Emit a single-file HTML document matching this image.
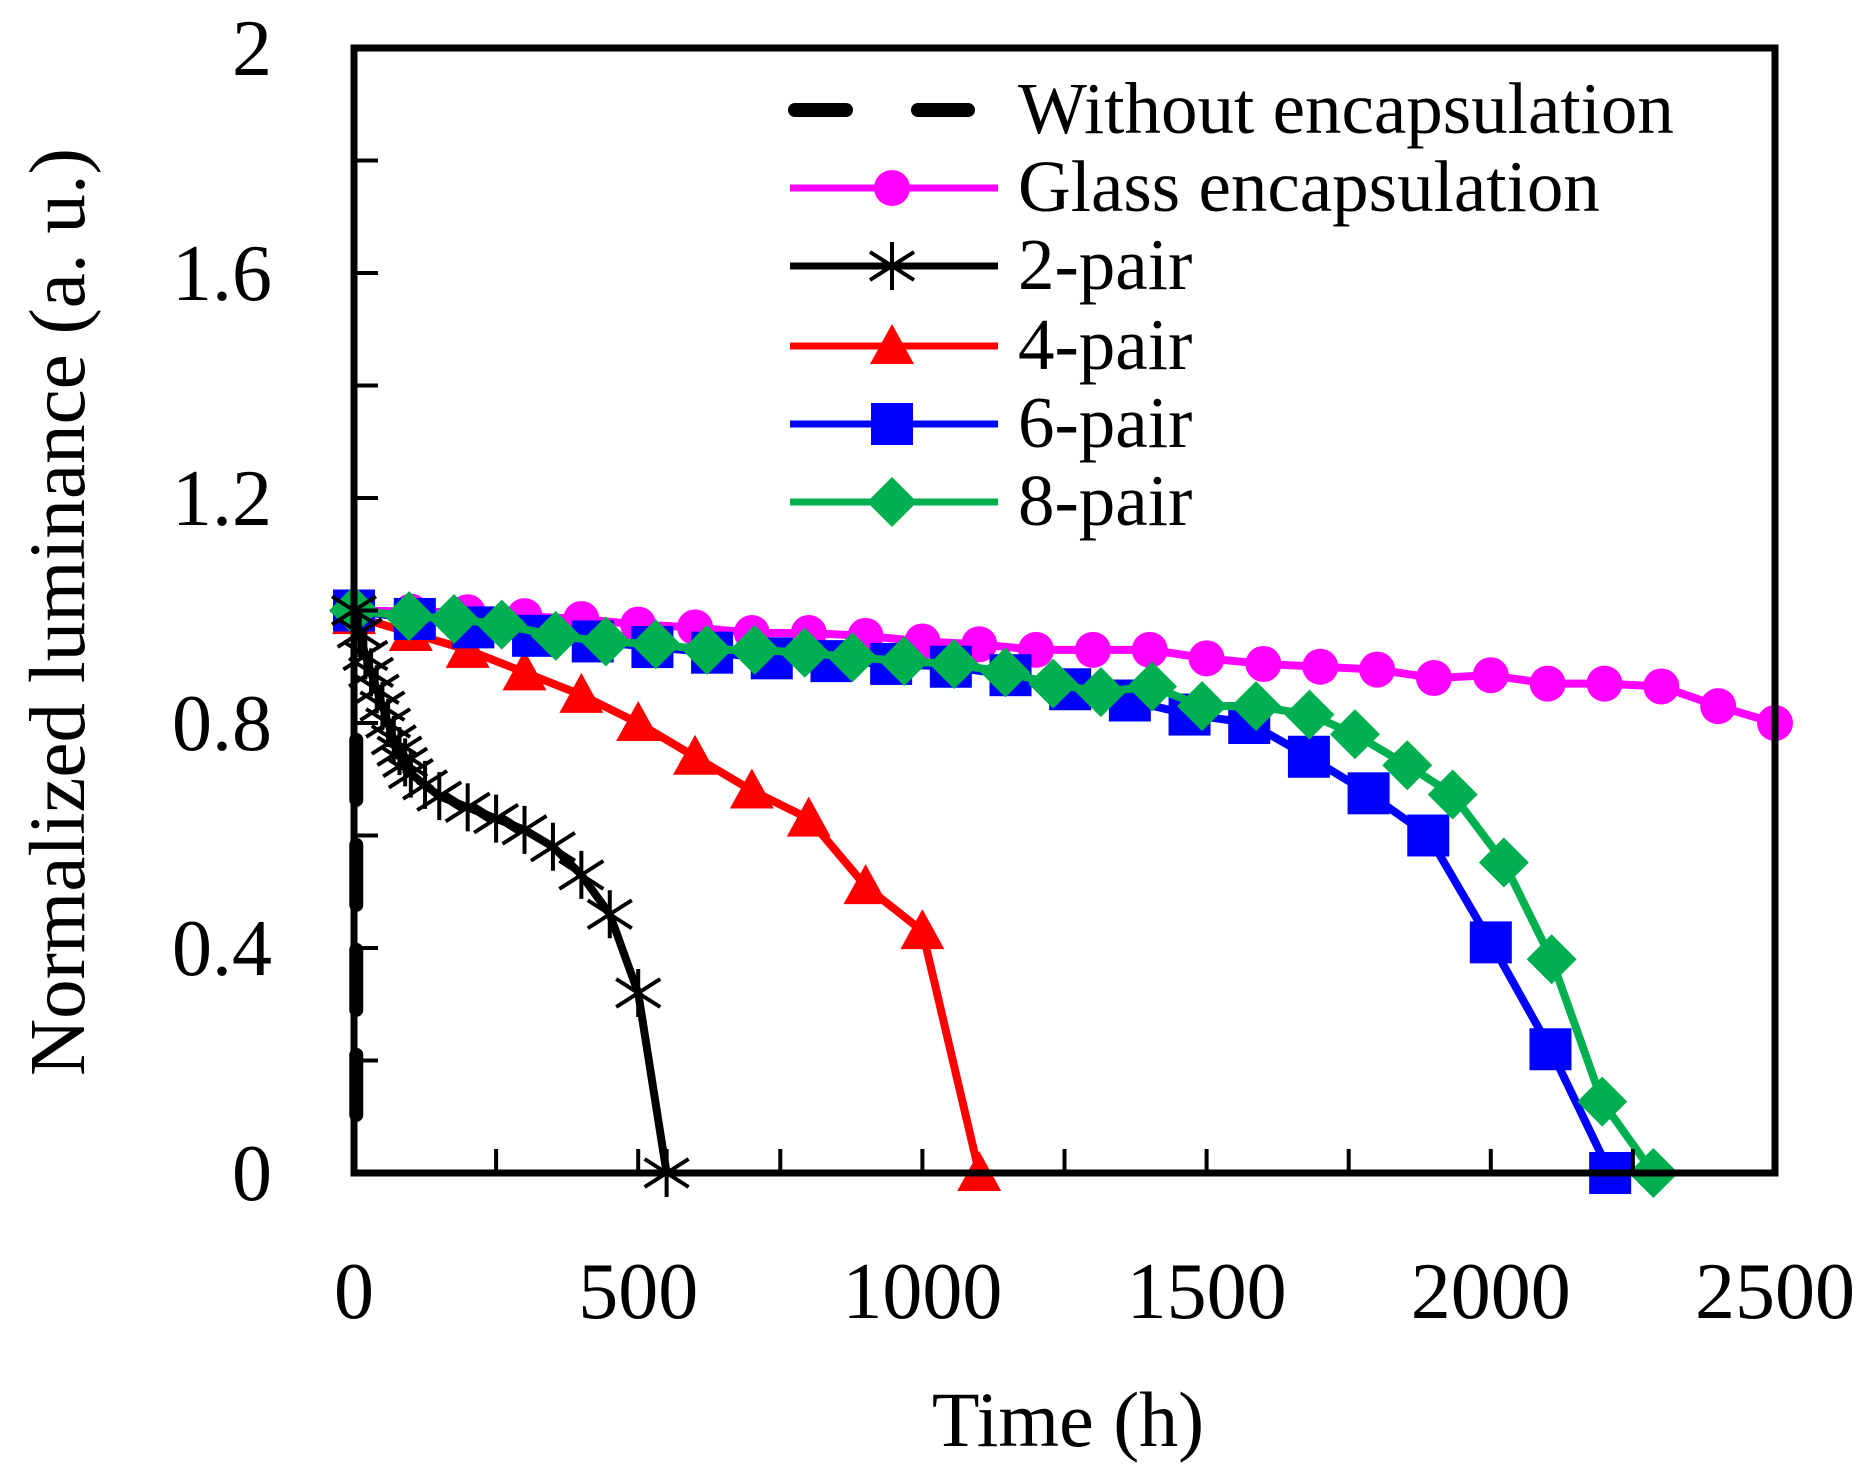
<!DOCTYPE html>
<html><head><meta charset="utf-8"><style>
html,body{margin:0;padding:0;background:#fff;}
svg{display:block;}
text{font-family:"Liberation Serif",serif;fill:#000;}
</style></head><body>
<svg id="chart" width="1875" height="1472" viewBox="0 0 1875 1472" xmlns="http://www.w3.org/2000/svg">
<g id="series"></g>
<g id="axes"></g>
<g id="legend"></g>
<text x="0" y="0" font-size="79" text-anchor="middle" transform="translate(84,612) rotate(-90)">Normalized luminance (a. u.)</text>
<text x="1068" y="1446" font-size="78" text-anchor="middle">Time (h)</text>
</svg>
<script>
const xTicks=[0,500,1000,1500,2000,2500];
const xMinorTicks=[250,750,1250,1750,2250];
const yTicks=[0,0.4,0.8,1.2,1.6,2];
const yMinorTicks=[0.2,0.6,1.0,1.4,1.8];
const yTickLabels=["0","0.4","0.8","1.2","1.6","2"];
const withoutT=[4,4];
const withoutV=[0.77,0.06];
const glassT=[0,100,200,300,400,500,600,700,800,900,1000,1100,1200,1300,1400,1500,1600,1700,1800,1900,2000,2100,2200,2300,2400,2500];
const glassV=[1.0,0.998,0.997,0.99,0.985,0.975,0.97,0.96,0.96,0.955,0.945,0.94,0.93,0.93,0.93,0.915,0.905,0.9,0.895,0.88,0.885,0.87,0.87,0.865,0.83,0.80];
const pair2T=[0,10,20,30,40,50,60,70,80,90,100,125,150,200,250,300,350,400,450,500,550];
const pair2V=[1.0,0.96,0.92,0.89,0.86,0.83,0.8,0.77,0.75,0.73,0.71,0.69,0.67,0.65,0.63,0.61,0.58,0.53,0.46,0.32,0.0];
const pair4T=[0,100,200,300,400,500,600,700,800,900,1000,1100];
const pair4V=[0.99,0.96,0.93,0.89,0.85,0.80,0.74,0.68,0.63,0.51,0.43,0.0];
const pair6T=[0,107,210,315,420,525,630,735,840,945,1050,1155,1260,1365,1470,1575,1680,1785,1890,2000,2105,2210];
const pair6V=[1.0,0.985,0.97,0.955,0.945,0.935,0.925,0.915,0.91,0.905,0.9,0.885,0.86,0.84,0.815,0.8,0.74,0.675,0.6,0.41,0.22,0.0];
const pair8T=[0,97,176,260,355,443,531,621,705,793,877,968,1056,1146,1230,1314,1404,1492,1587,1681,1761,1853,1933,2023,2107,2196,2286];
const pair8V=[1.0,0.99,0.985,0.975,0.955,0.945,0.94,0.93,0.93,0.925,0.917,0.91,0.905,0.89,0.87,0.855,0.865,0.83,0.83,0.815,0.78,0.725,0.673,0.552,0.38,0.127,0.0];

const NS="http://www.w3.org/2000/svg";
const X0=354,X1=1775,Y0=1173,Y1=48;
const xs=t=>X0+(t/2500)*(X1-X0);
const ys=v=>Y0-(v/2)*(Y0-Y1);
function mk(tag,attrs,parent){const e=document.createElementNS(NS,tag);for(const k in attrs)e.setAttribute(k,attrs[k]);parent.appendChild(e);return e;}
const S=document.getElementById('series'),A=document.getElementById('axes'),L=document.getElementById('legend');

function marker(kind,cx,cy,color,parent,name){
  let e;
  if(kind==='circle') e=mk('circle',{cx:cx,cy:cy,r:18,fill:color},parent);
  else if(kind==='square') e=mk('rect',{x:cx-21,y:cy-21,width:42,height:42,fill:color},parent);
  else if(kind==='diamond') e=mk('polygon',{points:`${cx},${cy-25} ${cx+25},${cy} ${cx},${cy+25} ${cx-25},${cy}`,fill:color},parent);
  else if(kind==='triangle') e=mk('polygon',{points:`${cx},${cy-22} ${cx+22},${cy+18} ${cx-22},${cy+18}`,fill:color},parent);
  else if(kind==='star'){e=mk('g',{},parent);
    mk('line',{x1:cx-22,y1:cy-14,x2:cx+22,y2:cy+14,stroke:color,'stroke-width':4},e);
    mk('line',{x1:cx-22,y1:cy+14,x2:cx+22,y2:cy-14,stroke:color,'stroke-width':4},e);
    mk('line',{x1:cx,y1:cy-24,x2:cx,y2:cy+24,stroke:color,'stroke-width':4},e);}
  
  
  return e;
}
function series(T,V,color,kind,name){
  const g=mk('g',{},S);
  
  
  const pts=T.map((t,i)=>xs(t)+','+ys(V[i])).join(' ');
  const pl=mk('polyline',{points:pts,fill:'none',stroke:color,'stroke-width':8,'stroke-linejoin':'round'},g);
  
  
  T.forEach((t,i)=>marker(kind,xs(t),ys(V[i]),color,g,name+'-point'));
}
const wo=mk('line',{x1:xs(withoutT[0]),y1:ys(withoutV[0]),x2:xs(withoutT[1]),y2:ys(withoutV[1]),stroke:'#000','stroke-width':14,'stroke-dasharray':'60 45','stroke-linecap':'round'},S);


series(glassT,glassV,'#ff00ff','circle','glass');
series(pair4T,pair4V,'#ff0000','triangle','pair4');
series(pair6T,pair6V,'#0000ff','square','pair6');
series(pair8T,pair8V,'#00b050','diamond','pair8');
series(pair2T,pair2V,'#000000','star','pair2');

const fr=mk('rect',{x:X0,y:Y1,width:X1-X0,height:Y0-Y1,fill:'none',stroke:'#000','stroke-width':7},A);


xTicks.concat(xMinorTicks).forEach(t=>{const l=mk('line',{x1:xs(t),y1:Y0,x2:xs(t),y2:Y0-24,stroke:'#000','stroke-width':4},A);
  
  });
xTicks.forEach(t=>{const tx=mk('text',{x:xs(t),y:1318,'font-size':80,'text-anchor':'middle'},A);tx.textContent=t;
  
  });
yTicks.concat(yMinorTicks).forEach(v=>{const l=mk('line',{x1:X0,y1:ys(v),x2:X0+24,y2:ys(v),stroke:'#000','stroke-width':4},A);
  
  });
yTicks.forEach((v,i)=>{const tx=mk('text',{x:272,y:ys(v)+27,'font-size':80,'text-anchor':'end'},A);tx.textContent=yTickLabels[i];
  
  });

const legItems=[["Without encapsulation","#000","dash"],["Glass encapsulation","#ff00ff","circle"],["2-pair","#000","star"],["4-pair","#ff0000","triangle"],["6-pair","#0000ff","square"],["8-pair","#00b050","diamond"]];
const legY=[110,188,266,346,424,502];
legItems.forEach((it,i)=>{
  const g=mk('g',{},L);
  
  
  const y=legY[i];
  if(it[2]==='dash'){
    mk('line',{x1:795,y1:y,x2:846,y2:y,stroke:'#000','stroke-width':14,'stroke-linecap':'round'},g);
    mk('line',{x1:918,y1:y,x2:968,y2:y,stroke:'#000','stroke-width':14,'stroke-linecap':'round'},g);
  } else {
    mk('line',{x1:790,y1:y,x2:998,y2:y,stroke:it[1],'stroke-width':7},g);
    marker(it[2],892,y,it[1],g,'legend-marker');
  }
  const tx=mk('text',{x:1018,y:y+23,'font-size':73},g);tx.textContent=it[0];
});
</script>
</body></html>
